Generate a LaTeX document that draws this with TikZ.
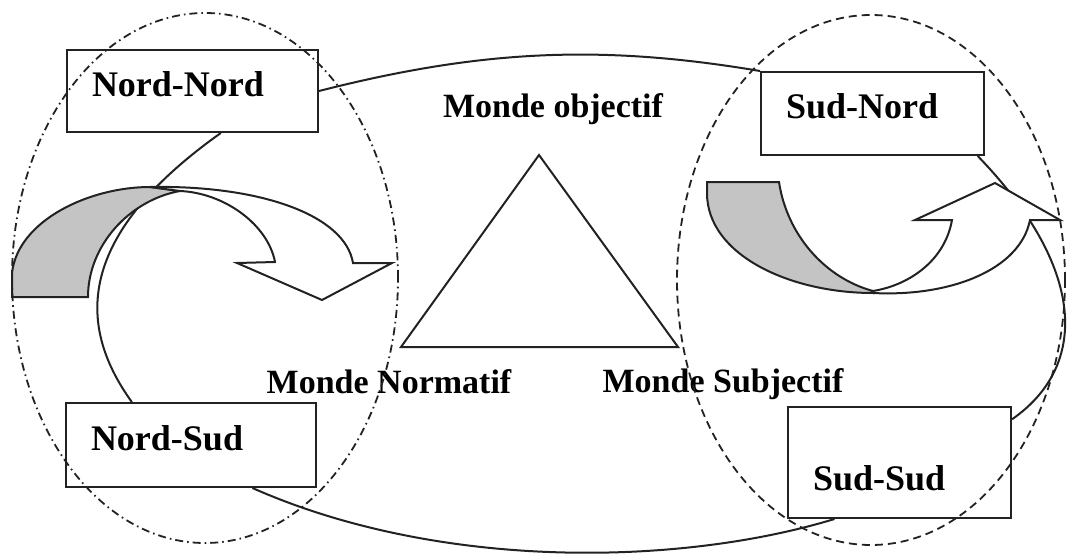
\documentclass[tikz,border=0pt]{standalone}
\usepackage{fontspec}
\setmainfont{Liberation Serif}
\usetikzlibrary{calc}
\definecolor{ink}{HTML}{222222}
\definecolor{backshade}{HTML}{C4C4C4}
\tikzset{worldbox/.style={draw=ink,fill=white,line width=1pt,align=left,inner xsep=12.5pt,inner ysep=0pt,text height=12pt,text depth=6.5pt,font=\bfseries\fontsize{18}{20}\selectfont},worldlabel/.style={font=\bfseries\fontsize{17}{20}\selectfont,inner sep=0pt,anchor=base},loopline/.style={draw=ink,line width=1pt},arrowback/.style={draw=ink,fill=backshade,line width=1pt},arrowfront/.style={draw=ink,fill=white,line width=1pt},northzone/.style={draw=ink,line width=0.9pt,dash pattern=on 4pt off 2pt on 0.8pt off 2pt},southzone/.style={draw=ink,line width=0.9pt,dash pattern=on 4pt off 2.5pt}}

\begin{document}
\begin{tikzpicture}[x=0.5pt,y=-0.5pt]
\useasboundingbox (0,0) rectangle (1071,556);
\node[worldbox,text width=100.5pt,minimum width=125.5pt,minimum height=41pt] (nn) at (192.5,91) {Nord-Nord};
\node[worldbox,text width=100pt,minimum width=125pt,minimum height=42pt] (ns) at (191,445) {Nord-Sud};
\node[worldbox,text width=86.5pt,minimum width=111.5pt,minimum height=41.5pt] (sn) at (872.5,113.5) {Sud-Nord};
\node[worldbox,text width=86.5pt,minimum width=111.5pt,minimum height=55.5pt,text height=30pt,text depth=2.1pt] (ss) at (899.5,462.5) {Sud-Sud};
% the big loop between the four boxes
\draw[loopline] (nn.east) .. controls (480,50) and (600,44) .. (sn.north west);
\draw[loopline] (sn.-22) .. controls (1085,267) and (1090,365) .. (ss.21);
\draw[loopline] (ss.221) .. controls (680,566) and (440,571) .. (ns.-35);
\draw[loopline] (ns.144) .. controls (80,330) and (70,240) .. (nn.-56);
% curved arrows
\draw[arrowback] (12,297) -- (88,297) .. controls (88,245) and (130,200) .. (180,191) -- (150,187) .. controls (90,187) and (18,220) .. (12,273) -- cycle;
\draw[arrowfront] (150,187) .. controls (260,185) and (345,215) .. (353,263) -- (392,263) -- (322,300) -- (237,263) -- (275,262) .. controls (268,225) and (225,193) .. (180,191) -- cycle;
\draw[arrowback] (707,182) -- (779,182) .. controls (787,235) and (825,278) .. (873,291) -- (873,293) .. controls (790,293) and (707,255) .. (707,193) -- cycle;
\draw[arrowfront] (873,293) .. controls (950,297) and (1020,270) .. (1030,220) -- (1060,220) -- (995,183) -- (915,220) -- (952,220) .. controls (945,260) and (910,285) .. (873,291) -- cycle;
% triangle of the three worlds
\draw[loopline] (539,155) -- (401,347) -- (678,347) -- cycle;
\node[worldlabel] (objectif) at (553,118) {Monde objectif};
\node[worldlabel] (normatif) at (389,393) {Monde Normatif};
\node[worldlabel] (subjectif) at (723,392) {Monde Subjectif};
% north and south zones
\draw[northzone] (205,278) ellipse [x radius=96.5pt,y radius=132.5pt];
\draw[southzone] (871,280) ellipse [x radius=97pt,y radius=132.5pt];
\end{tikzpicture}
\end{document}
